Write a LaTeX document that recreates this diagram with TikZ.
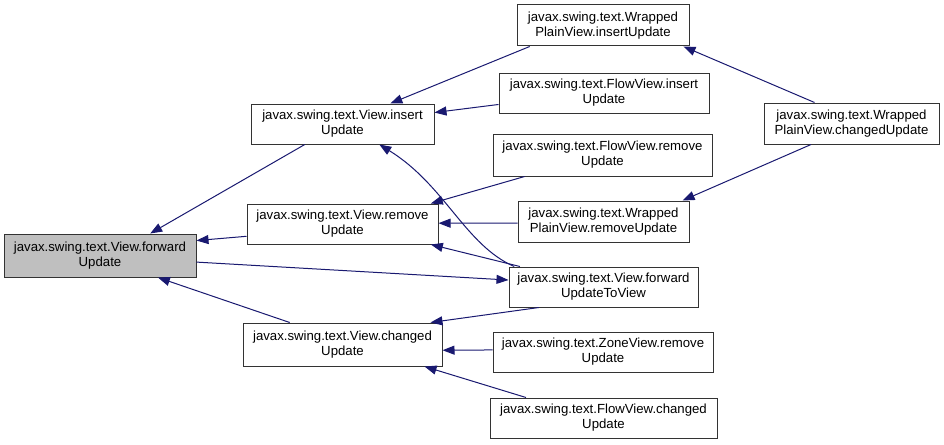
\documentclass[tikz,border=0pt]{standalone}
\usepackage{fontspec}
\setmainfont{Liberation Sans}
\usetikzlibrary{arrows.meta,calc}
\definecolor{edgec}{HTML}{191970}
\begin{document}
\begin{tikzpicture}[x=1pt,y=-1pt,
  box/.style={draw=black!80,line width=1pt,fill=white,inner sep=0pt,align=center,
    font=\fontsize{13.2}{15}\selectfont},
  edge/.style={draw=edgec,line width=1pt,-{Triangle[length=12pt,width=9pt]}}]
\useasboundingbox (0,0) rectangle (944,444);
\node[box,fill=black!25,minimum width=192pt,minimum height=43pt] (A) at (100,255.5) {javax.swing.text.View.forward\\Update};
\node[box,minimum width=183pt,minimum height=40pt] (B) at (342.5,124) {javax.swing.text.View.insert\\Update};
\node[box,minimum width=191pt,minimum height=40pt] (C) at (342.5,224) {javax.swing.text.View.remove\\Update};
\node[box,minimum width=199pt,minimum height=43pt] (D) at (342.5,344.5) {javax.swing.text.View.changed\\Update};
\node[box,minimum width=172pt,minimum height=41pt] (E) at (603,25.5) {javax.swing.text.Wrapped\\PlainView.insertUpdate};
\node[box,minimum width=210pt,minimum height=40pt] (F) at (604,93) {javax.swing.text.FlowView.insert\\Update};
\node[box,minimum width=219pt,minimum height=42pt] (G) at (602.5,155) {javax.swing.text.FlowView.remove\\Update};
\node[box,minimum width=171pt,minimum height=41pt] (H) at (603.5,221.5) {javax.swing.text.Wrapped\\PlainView.removeUpdate};
\node[box,minimum width=189pt,minimum height=40pt] (I) at (603.5,287) {javax.swing.text.View.forward\\UpdateToView};
\node[box,minimum width=220pt,minimum height=40pt] (J) at (603,352) {javax.swing.text.ZoneView.remove\\Update};
\node[box,minimum width=227pt,minimum height=40pt] (K) at (603.5,418) {javax.swing.text.FlowView.changed\\Update};
\node[box,minimum width=175pt,minimum height=41pt] (L) at (851.5,123.5) {javax.swing.text.Wrapped\\PlainView.changedUpdate};
% edges
\draw[edge] ($(B.south west)!0.295!(B.south east)$) -- ($(A.north west)!0.76!(A.north east)$);
\draw[edge] ($(C.north west)!0.8!(C.south west)$) -- ($(A.north east)!0.16!(A.south east)$);
\draw[edge] ($(D.north west)!0.236!(D.north east)$) -- ($(A.south west)!0.8!(A.south east)$);
\draw[edge] ($(A.north east)!0.65!(A.south east)$) -- ($(I.north west)!0.33!(I.south west)$);
\draw[edge] ($(E.south west)!0.076!(E.south east)$) -- ($(B.north west)!0.76!(B.north east)$);
\draw[edge] ($(F.north west)!0.78!(F.south west)$) -- ($(B.north east)!0.22!(B.south east)$);
\draw[edge] ($(I.north west)!0.03!(I.north east)$) .. controls (465,245) and (445,185) .. ($(B.south west)!0.70!(B.south east)$);
\draw[edge] ($(G.south west)!0.146!(G.south east)$) -- ($(C.north west)!0.96!(C.north east)$);
\draw[edge] ($(H.north west)!0.54!(H.south west)$) -- ($(C.north east)!0.48!(C.south east)$);
\draw[edge] ($(I.north west)!0.06!(I.north east)$) -- ($(C.south west)!0.96!(C.south east)$);
\draw[edge] ($(I.south west)!0.16!(I.south east)$) -- ($(D.north west)!0.94!(D.north east)$);
\draw[edge] ($(J.north west)!0.45!(J.south west)$) -- ($(D.north east)!0.63!(D.south east)$);
\draw[edge] ($(K.north west)!0.16!(K.north east)$) -- ($(D.south west)!0.91!(D.south east)$);
\draw[edge] ($(L.north west)!0.29!(L.north east)$) -- ($(E.south west)!0.965!(E.south east)$);
\draw[edge] ($(L.south west)!0.27!(L.south east)$) -- ($(H.north west)!0.96!(H.north east)$);
\end{tikzpicture}
\end{document}
